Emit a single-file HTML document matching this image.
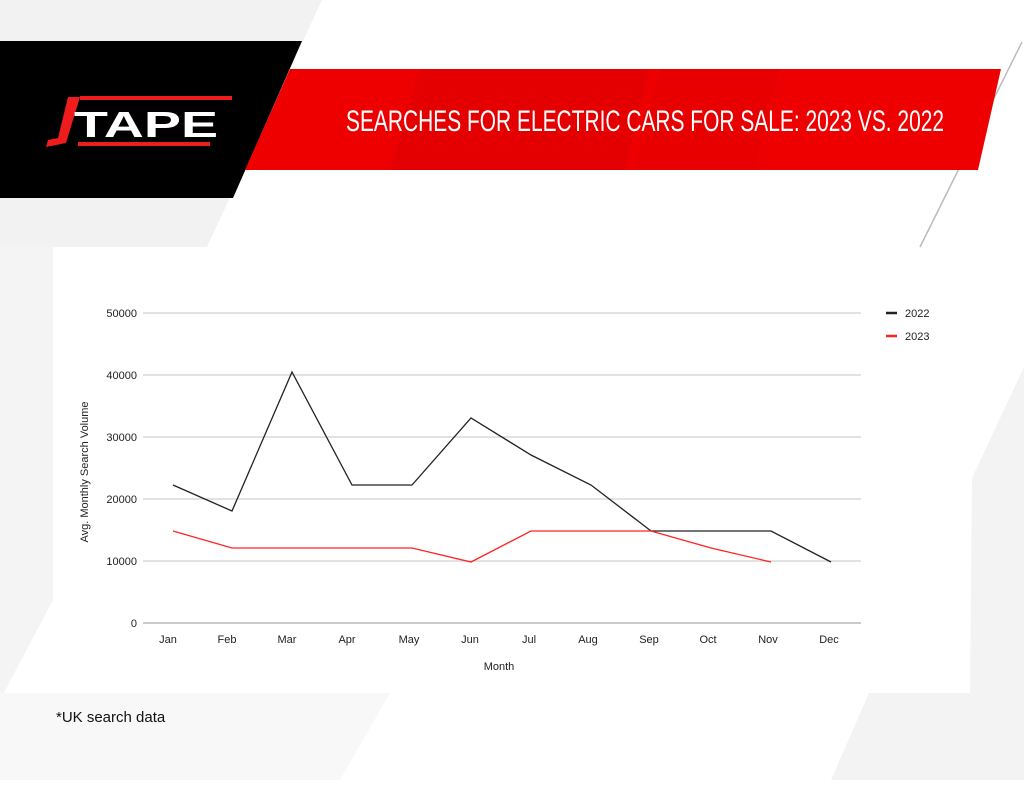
<!DOCTYPE html>
<html><head><style>
body{margin:0;width:1024px;height:780px;overflow:hidden;background:#fff}
text{font-family:"Liberation Sans",sans-serif}
</style></head><body>
<svg width="1024" height="780" xmlns="http://www.w3.org/2000/svg">
<rect width="1024" height="780" fill="#fff"/>
<polygon points="0,0 322,0 207,247 0,247" fill="#f2f2f2"/>
<polygon points="0,247 53,247 53,600 0,700" fill="#f4f4f4"/>
<polygon points="1024,367 972,478 970,693 869,693 831,780 1024,780" fill="#f3f3f3"/>
<polygon points="0,693 390,693 340,780 0,780" fill="#f8f8f8"/>
<rect x="53" y="247" width="917" height="446" fill="#fff"/>
<line x1="1022" y1="42" x2="920" y2="247" stroke="#bbb" stroke-width="1.5"/>
<polygon points="0,41 302,41 233,198 0,198" fill="#000"/>
<polygon points="290,69 1001,69 978,170 245,170" fill="#ee0000"/>
<polygon points="420,69 650,69 625,170 390,170" fill="#e00000" opacity="0.7"/>
<polygon points="660,69 780,69 755,170 635,170" fill="#e50000" opacity="0.7"/>
<!-- logo -->
<polygon points="68,97 80,97 66,143 46,147 48,140 58,138" fill="#ee1c1c"/>
<rect x="80" y="96" width="152" height="4" fill="#ee1c1c"/>
<rect x="78" y="142" width="132" height="4" fill="#ee1c1c"/>
<text x="74" y="137" font-size="36" font-weight="bold" fill="#fff" font-family="Liberation Sans" textLength="144" lengthAdjust="spacingAndGlyphs">TAPE</text>
<text x="346" y="131" font-size="30" fill="#fff" textLength="598" lengthAdjust="spacingAndGlyphs">SEARCHES FOR ELECTRIC CARS FOR SALE: 2023 VS. 2022</text>
<!-- grid -->
<g stroke="#d0d0d0" stroke-width="1.3">
<line x1="143" y1="313" x2="861" y2="313"/>
<line x1="143" y1="375" x2="861" y2="375"/>
<line x1="143" y1="437" x2="861" y2="437"/>
<line x1="143" y1="499" x2="861" y2="499"/>
<line x1="143" y1="561" x2="861" y2="561"/>
</g>
<line x1="143" y1="623" x2="861" y2="623" stroke="#aaa" stroke-width="1.3"/>
<g font-size="11" fill="#222" text-anchor="end">
<text x="137" y="317">50000</text><text x="137" y="379">40000</text><text x="137" y="441">30000</text>
<text x="137" y="503">20000</text><text x="137" y="565">10000</text><text x="137" y="627">0</text>
</g>
<g font-size="11" fill="#222" text-anchor="middle">
<text x="168" y="643">Jan</text><text x="227" y="643">Feb</text><text x="287" y="643">Mar</text><text x="347" y="643">Apr</text>
<text x="409" y="643">May</text><text x="470" y="643">Jun</text><text x="529" y="643">Jul</text><text x="588" y="643">Aug</text>
<text x="649" y="643">Sep</text><text x="708" y="643">Oct</text><text x="768" y="643">Nov</text><text x="829" y="643">Dec</text>
<text x="499" y="670">Month</text>
</g>
<text transform="translate(88,472) rotate(-90)" font-size="11" fill="#222" text-anchor="middle">Avg. Monthly Search Volume</text>
<polyline fill="none" stroke="#222" stroke-width="1.3" points="173,485 232,511 292,372 352,485 412,485 471,418 531,455 591,485 651,531 711,531 771,531 831,562"/>
<polyline fill="none" stroke="#f22" stroke-width="1.3" points="173,531 232,548 292,548 352,548 412,548 471,562 531,531 591,531 651,531 711,548 771,562"/>
<line x1="886" y1="313" x2="897" y2="313" stroke="#222" stroke-width="2.5"/>
<line x1="886" y1="336" x2="897" y2="336" stroke="#f22" stroke-width="2.5"/>
<text x="905" y="317" font-size="11" fill="#222">2022</text>
<text x="905" y="340" font-size="11" fill="#222">2023</text>
<text x="56" y="722" font-size="15" fill="#111">*UK search data</text>
</svg>
</body></html>
